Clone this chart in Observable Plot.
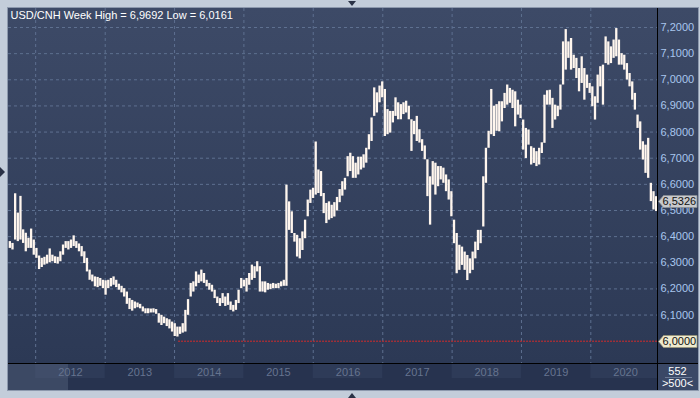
<!DOCTYPE html>
<html><head><meta charset="utf-8">
<script src="https://cdn.jsdelivr.net/npm/d3@7"></script>
<script src="https://cdn.jsdelivr.net/npm/@observablehq/plot@0.6"></script>
<style>html,body{margin:0;padding:0;background:#c3cdda;} #chart svg{display:block}</style>
</head><body><div id="chart"></div>
<script>
// ---- data ----
const titleText = "USD/CNH Week High = 6,9692 Low = 6,0161";
const firstBarDate = "2011-08-18";
const barStepDays = 14;
const highs = [
6.381,6.374,6.564,6.49,6.554,6.426,6.413,6.394,6.429,6.387,
6.355,6.326,6.317,6.321,6.329,6.353,6.329,6.323,6.321,6.342,
6.368,6.381,6.381,6.387,6.403,6.381,6.372,6.362,6.342,6.317,
6.272,6.253,6.246,6.244,6.24,6.233,6.231,6.233,6.24,6.246,
6.233,6.218,6.21,6.201,6.188,6.163,6.156,6.15,6.146,6.141,
6.131,6.124,6.124,6.123,6.124,6.121,6.105,6.099,6.092,6.086,
6.082,6.073,6.067,6.054,6.054,6.067,6.118,6.159,6.221,6.227,
6.265,6.253,6.272,6.259,6.233,6.221,6.214,6.195,6.169,6.163,
6.182,6.169,6.182,6.15,6.137,6.156,6.195,6.24,6.233,6.24,
6.259,6.291,6.285,6.304,6.285,6.227,6.227,6.221,6.218,6.221,
6.218,6.221,6.227,6.233,6.597,6.533,6.495,6.412,6.405,6.392,
6.418,6.463,6.54,6.578,6.585,6.762,6.655,6.649,6.565,6.527,
6.533,6.52,6.53,6.55,6.58,6.61,6.623,6.706,6.719,6.706,
6.681,6.704,6.704,6.713,6.738,6.79,6.854,6.969,6.95,6.976,
6.992,6.963,6.886,6.879,6.879,6.931,6.912,6.905,6.912,6.918,
6.899,6.847,6.841,6.86,6.809,6.771,6.747,6.694,6.629,6.687,
6.681,6.668,6.668,6.662,6.636,6.617,6.572,6.463,6.412,6.367,
6.36,6.341,6.328,6.315,6.341,6.379,6.424,6.424,6.629,6.738,
6.803,6.963,6.899,6.905,6.916,6.916,6.948,6.98,6.967,6.96,
6.954,6.922,6.903,6.846,6.814,6.808,6.744,6.738,6.725,6.738,
6.759,6.941,6.958,6.96,6.929,6.903,6.899,6.98,7.145,7.192,
7.145,7.158,7.094,7.082,7.043,7.088,7.043,7.018,6.986,6.973,
6.935,7.018,7.05,7.056,7.164,7.145,7.126,7.152,7.196,7.152,
7.1,7.094,7.062,7.024,6.992,6.948,6.865,6.839,6.763,6.75,
6.776,6.604,6.572,6.553
];
const lows = [
6.355,6.349,6.387,6.381,6.387,6.374,6.342,6.355,6.355,6.329,
6.317,6.274,6.282,6.291,6.295,6.3,6.304,6.297,6.295,6.304,
6.329,6.355,6.349,6.355,6.362,6.355,6.342,6.323,6.297,6.265,
6.233,6.227,6.208,6.205,6.21,6.201,6.176,6.201,6.208,6.214,
6.205,6.195,6.185,6.169,6.141,6.121,6.115,6.124,6.128,6.124,
6.112,6.105,6.105,6.108,6.108,6.103,6.069,6.06,6.067,6.056,
6.047,6.035,6.018,6.016,6.026,6.031,6.035,6.099,6.169,6.188,
6.208,6.221,6.227,6.221,6.208,6.195,6.188,6.163,6.144,6.133,
6.144,6.133,6.137,6.118,6.112,6.118,6.144,6.201,6.208,6.188,
6.214,6.233,6.24,6.265,6.188,6.188,6.185,6.195,6.197,6.201,
6.201,6.201,6.208,6.21,6.21,6.424,6.412,6.379,6.322,6.315,
6.347,6.392,6.476,6.527,6.546,6.559,6.565,6.553,6.488,6.45,
6.463,6.469,6.475,6.498,6.53,6.555,6.578,6.629,6.649,6.623,
6.623,6.636,6.655,6.662,6.681,6.732,6.764,6.86,6.873,6.912,
6.931,6.783,6.79,6.796,6.835,6.86,6.847,6.847,6.867,6.873,
6.847,6.726,6.79,6.764,6.758,6.726,6.694,6.553,6.444,6.597,
6.559,6.591,6.617,6.604,6.572,6.54,6.476,6.373,6.258,6.271,
6.29,6.271,6.232,6.258,6.271,6.315,6.347,6.373,6.437,6.604,
6.738,6.79,6.783,6.803,6.801,6.839,6.89,6.903,6.91,6.89,
6.82,6.865,6.852,6.731,6.699,6.75,6.674,6.68,6.668,6.674,
6.718,6.757,6.903,6.903,6.814,6.846,6.859,6.884,6.98,7.037,
7.082,7.037,7.043,7.005,6.954,6.986,6.922,6.967,6.948,6.897,
6.846,6.91,6.973,6.903,7.062,7.056,7.062,7.082,7.088,7.056,
7.056,7.037,6.999,6.973,6.922,6.884,6.814,6.731,6.693,6.642,
6.623,6.534,6.502,6.496
];
const yTicks = [6.0,6.1,6.2,6.3,6.4,6.5,6.6,6.7,6.8,6.9,7.0,7.1,7.2];
const years = [2012,2013,2014,2015,2016,2017,2018,2019,2020];
const lastPrice = 6.5326;
const refLevel = 6.0;
const refStart = "2014-01-22";
const barCountLabel = "552";
const zoomLabel = ">500<";
const xDomain = ["2011-08-11", "2020-12-17"];
const yDomain = [5.9147, 7.2727];

// ---- build ----
const fmt = v => v.toFixed(4).replace(".", ",");
const t0 = new Date(firstBarDate + "T00:00:00Z");
const bars = highs.map((h, i) => ({date: new Date(+t0 + i * barStepDays * 864e5), high: h, low: lows[i]}));
const yearStarts = years.map(y => new Date(Date.UTC(y, 0, 1)));
const yearMids = years.map(y => ({year: y, date: new Date(Date.UTC(y, 6, 2))}));
const dEnd = new Date(xDomain[1] + "T00:00:00Z");
const gridColor = "#5e7090";

function background(index, scales, values, dims) {
  const {x} = scales;
  const L = dims.marginLeft, R = dims.width - dims.marginRight, T = dims.marginTop, B = dims.height - dims.marginBottom;
  const W = dims.width - 2, H = dims.height - 8;
  const g = d3.create("svg:g");
  const defs = g.append("defs");
  const lg = defs.append("linearGradient").attr("id", "bgGrad").attr("x1", 0).attr("y1", 0).attr("x2", 0).attr("y2", 1);
  lg.append("stop").attr("offset", "0").attr("stop-color", "#3d4a67");
  lg.append("stop").attr("offset", "1").attr("stop-color", "#2c3955");
  g.append("rect").attr("x", L - 1).attr("y", T - 1).attr("width", W - L + 2).attr("height", H - T + 2).attr("fill", "#8d99ad");
  g.append("rect").attr("x", L).attr("y", T).attr("width", W - L).attr("height", B - T).attr("fill", "url(#bgGrad)");
  g.append("rect").attr("x", L).attr("y", B).attr("width", R - L).attr("height", H - B).attr("fill", "#27334f");
  yearStarts.forEach((d, i) => {
    const x1 = Math.max(L, x(d));
    const x2 = Math.min(R, x(new Date(Date.UTC(years[i] + 1, 0, 1))));
    if (years[i] % 2 === 0) g.append("rect").attr("x", x1).attr("y", B + 1).attr("width", x2 - x1).attr("height", 14).attr("fill", "#2e3b58");
  });
  g.append("rect").attr("x", L).attr("y", B + 1).attr("width", 60).attr("height", H - B - 1).attr("fill", "#56647f").attr("fill-opacity", 0.45);
  g.append("rect").attr("x", R).attr("y", B).attr("width", W - R).attr("height", H - B).attr("fill", "#3a4866");
  return g.node();
}

function overlay(index, scales, values, dims) {
  const {y} = scales;
  const L = dims.marginLeft, R = dims.width - dims.marginRight, T = dims.marginTop, B = dims.height - dims.marginBottom;
  const W = dims.width - 2, H = dims.height - 8;
  const g = d3.create("svg:g").attr("font-family", "'Liberation Sans', Arial, sans-serif");
  g.append("line").attr("x1", R + 0.5).attr("x2", R + 0.5).attr("y1", T).attr("y2", H).attr("stroke", "#000");
  g.append("line").attr("x1", L).attr("x2", W).attr("y1", B + 0.5).attr("y2", B + 0.5).attr("stroke", "#000");
  function tag(v, fill, stroke) {
    const yy = Math.round(y(v)) + 0.5;
    const x0 = R + 1.5, xr = W - 1;
    g.append("path").attr("d", `M${x0},${yy} L${x0 + 5},${yy - 6} L${xr},${yy - 6} L${xr},${yy + 6} L${x0 + 5},${yy + 6} Z`)
      .attr("fill", fill).attr("stroke", stroke).attr("stroke-width", 0.8);
    g.append("text").attr("x", x0 + 4).attr("y", yy).attr("dy", "0.35em").attr("fill", "#111")
      .attr("font-size", 11).attr("text-anchor", "start").text(fmt(v));
  }
  tag(lastPrice, "#c8cacd", "#8a8f96");
  tag(refLevel, "#efebd0", "#9a9678");
  g.append("text").attr("x", (R + W) / 2).attr("y", B + 8).attr("dy", "0.35em").attr("text-anchor", "middle").attr("fill", "#fff").attr("font-size", 11).text(barCountLabel);
  g.append("line").attr("x1", R + 8).attr("x2", W - 6).attr("y1", B + 14.5).attr("y2", B + 14.5).attr("stroke", "#6c7a95");
  g.append("text").attr("x", (R + W) / 2).attr("y", B + 20).attr("dy", "0.35em").attr("text-anchor", "middle").attr("fill", "#fff").attr("font-size", 11).text(zoomLabel);
  const cx = dims.width / 2 + 2;
  g.append("path").attr("d", `M${cx - 4},1 L${cx + 4},1 L${cx},6 Z`).attr("fill", "#2a3246");
  g.append("path").attr("d", `M${cx - 4},${dims.height} L${cx + 4},${dims.height} L${cx},${dims.height - 5} Z`).attr("fill", "#2a3246");
  g.append("path").attr("d", `M0,167 L0,177 L5,172 Z`).attr("fill", "#2a3246");
  return g.node();
}

const chart = Plot.plot({
  width: 700, height: 398,
  marginLeft: 8, marginRight: 43, marginTop: 8, marginBottom: 35,
  style: {background: "#c3cdda", fontFamily: "'Liberation Sans', Arial, sans-serif", fontSize: "11px", overflow: "visible"},
  x: {type: "utc", domain: xDomain.map(s => new Date(s + "T00:00:00Z")), axis: null},
  y: {domain: yDomain, axis: null},
  marks: [
    background,
    Plot.ruleY(yTicks.filter(v => v !== refLevel), {stroke: gridColor, strokeDasharray: "3,3"}),
    Plot.ruleX(yearStarts, {stroke: gridColor, strokeDasharray: "3,3"}),
    Plot.ruleY([{y: refLevel, x1: new Date(refStart + "T00:00:00Z"), x2: dEnd}], {y: "y", x1: "x1", x2: "x2", stroke: "#d42a2a", strokeDasharray: "2,1"}),
    Plot.ruleX(bars, {x: "date", y1: "low", y2: "high", stroke: "#fff6ee", strokeWidth: 2.3}),
    Plot.text(yTicks.filter(v => v !== refLevel), {y: d => d, text: fmt, frameAnchor: "right", dx: 3, textAnchor: "start", lineAnchor: "middle", fill: "#a9c6ee"}),
    Plot.text(yearMids, {x: "date", text: d => String(d.year), frameAnchor: "bottom", dy: 9, lineAnchor: "middle", fill: "#66748f"}),
    Plot.text([titleText], {text: d => d, frameAnchor: "top-left", dx: 2, dy: 7, lineAnchor: "middle", textAnchor: "start", fill: "#ffffff"}),
    overlay
  ]
});
document.getElementById("chart").appendChild(chart);
</script>
</body></html>
